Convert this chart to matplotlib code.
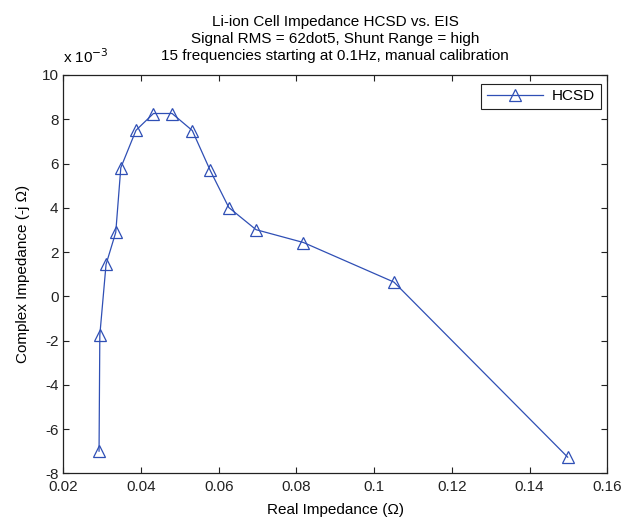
import matplotlib
matplotlib.use("Agg")
import matplotlib.pyplot as plt
from matplotlib.ticker import FuncFormatter

plt.rcParams['font.family'] = ['Liberation Sans', 'DejaVu Sans']

# impedance points (ohms)
real_z = [0.0292, 0.0294, 0.0310, 0.0335, 0.0348, 0.0387, 0.0432, 0.0480,
          0.0532, 0.0578, 0.0626, 0.0696, 0.0818, 0.1051, 0.1498]
imag_z = [-0.00700, -0.00175, 0.00144, 0.00289, 0.00581, 0.00750, 0.00826, 0.00826,
          0.00749, 0.00569, 0.00401, 0.00301, 0.00243, 0.00064, -0.00727]

x_ticks = [0.02, 0.04, 0.06, 0.08, 0.1, 0.12, 0.14, 0.16]
y_ticks = [-0.008, -0.006, -0.004, -0.002, 0, 0.002, 0.004, 0.006, 0.008, 0.010]

blue = '#2f4fb5'
fs = 11

fig = plt.figure(figsize=(6.35, 5.21), dpi=100)
# axes box: x 63..607 px, y 75..473 px
ax = fig.add_axes([63.3 / 635, (521 - 473.3) / 521, 544 / 635, 398.3 / 521])

ax.plot(real_z, imag_z, color=blue, lw=0.9, marker='^', markersize=8.5,
        markerfacecolor='none', markeredgecolor=blue, markeredgewidth=0.9,
        label='HCSD')

ax.set_xlim(0.02, 0.16)
ax.set_ylim(-0.008, 0.010)
ax.set_xticks(x_ticks)
ax.set_yticks(y_ticks)
ax.xaxis.set_major_formatter(FuncFormatter(lambda v, p: f"{v:g}"))
ax.yaxis.set_major_formatter(FuncFormatter(lambda v, p: f"{round(v * 1000):d}"))
ax.tick_params(direction='in', top=True, right=True, length=4, width=0.8,
               labelsize=fs, colors='#222222')
ax.tick_params(axis='x', pad=5)
ax.tick_params(axis='y', pad=3.5)
for s in ax.spines.values():
    s.set_linewidth(0.9)
    s.set_color('#222222')

ax.text(0.0, 1.022, r'x 10$^{-3}$', transform=ax.transAxes, fontsize=fs,
        ha='left', va='bottom')

ax.set_title('Li-ion Cell Impedance HCSD vs. EIS\n'
             'Signal RMS = 62dot5, Shunt Range = high\n'
             '15 frequencies starting at 0.1Hz, manual calibration',
             fontsize=fs, linespacing=1.3, pad=10.5)
ax.set_xlabel('Real Impedance (Ω)', fontsize=fs, labelpad=6)
ax.set_ylabel('Complex Impedance (-j Ω)', fontsize=fs, labelpad=8)

leg = ax.legend(loc='upper right', bbox_to_anchor=(1 - 6.6 / 544, 1 - 9 / 398.3),
                borderaxespad=0, fontsize=fs, fancybox=False, framealpha=1,
                edgecolor='#222222', handlelength=3.7, borderpad=0.35,
                handletextpad=0.6)
leg.get_frame().set_linewidth(0.8)

fig.savefig('out.png', dpi=100)
